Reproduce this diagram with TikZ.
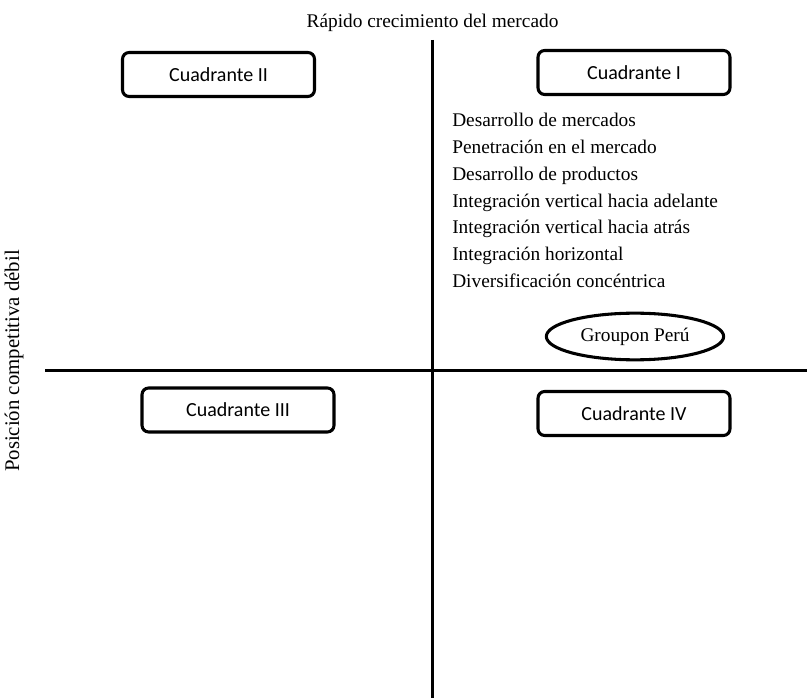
\documentclass[tikz,border=0pt]{standalone}
\usepackage{fontspec}
\setmainfont{Liberation Serif}
\newfontfamily\boxfont{Carlito}
\usetikzlibrary{shapes.geometric}
\tikzset{
  axisline/.style={line width=2.8pt},
  quadbox/.style={draw, line width=2.3pt, rounded corners=5pt, minimum width=144pt, minimum height=33pt, inner sep=0pt, font=\boxfont\fontsize{15}{18}\selectfont},
  serif/.style={font=\fontsize{14.5}{18}\selectfont, inner sep=0pt},
  listitem/.style={serif, anchor=base west},
  firm/.style={draw, ellipse, line width=2.3pt, minimum width=133pt, minimum height=35pt, inner sep=0pt, font=\fontsize{14.5}{18}\selectfont}
}
\begin{document}
\begin{tikzpicture}[x=0.75pt,y=-0.75pt]
\useasboundingbox (0,0) rectangle (807,698);
% axes
\coordinate (vtop) at (432.5,40);
\coordinate (vbot) at (432.5,698);
\coordinate (hleft) at (45,370.5);
\coordinate (hright) at (807,370.5);
\draw[axisline] (vtop) -- (vbot);
\draw[axisline] (hleft) -- (hright);
% axis labels
\node[serif, anchor=base] (title) at (432.5,28) {Rápido crecimiento del mercado};
\node[serif, rotate=90, font=\fontsize{15.6}{18}\selectfont] (ylab) at (14,361) {Posición competitiva débil};
% quadrant boxes
\node[quadbox] (q1) at (634,72.5) {Cuadrante I};
\node[quadbox] (q2) at (218.5,74.5) {Cuadrante II};
\node[quadbox] (q3) at (238,410) {Cuadrante III};
\node[quadbox] (q4) at (634,413.5) {Cuadrante IV};
% strategies
\node[listitem] (s1) at (452,127) {Desarrollo de mercados};
\node[listitem] (s2) at (452,153.7) {Penetración en el mercado};
\node[listitem] (s3) at (452,180.4) {Desarrollo de productos};
\node[listitem] (s4) at (452,207.1) {Integración vertical hacia adelante};
\node[listitem] (s5) at (452,233.8) {Integración vertical hacia atrás};
\node[listitem] (s6) at (452,260.5) {Integración horizontal};
\node[listitem] (s7) at (452,287.2) {Diversificación concéntrica};
% firm
\node[firm] (gp) at (635,336.5) {Groupon Perú};
\end{tikzpicture}
\end{document}
